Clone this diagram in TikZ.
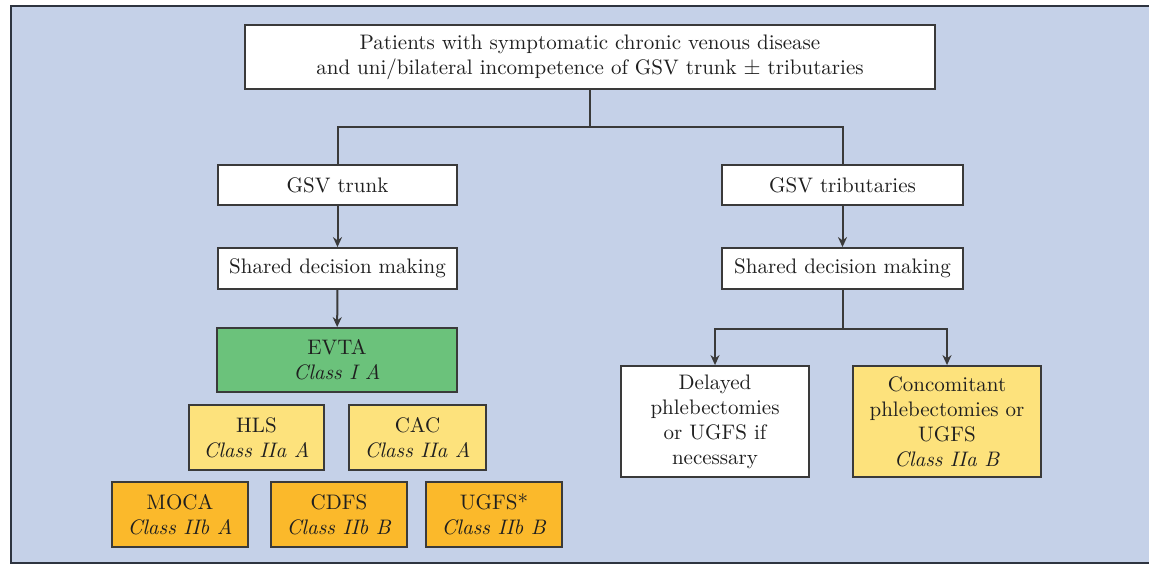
\documentclass[tikz,border=0pt]{standalone}
\usetikzlibrary{arrows.meta}
\definecolor{bg}{HTML}{C5D1E8}
\definecolor{framecol}{HTML}{2E3440}
\definecolor{edgecol}{HTML}{3A3A3A}
\definecolor{evtagreen}{HTML}{6BC27B}
\definecolor{lightyel}{HTML}{FDE27C}
\definecolor{orangey}{HTML}{FBB92B}
\begin{document}
\begin{tikzpicture}[x=0.5pt,y=-0.5pt,
  box/.style={draw=edgecol, line width=0.9pt, inner sep=0pt, align=center,
    font=\fontsize{10.5}{12.5}\selectfont, text=black!88},
  conn/.style={draw=edgecol, line width=1pt},
  arr/.style={conn, -{Stealth[length=5pt,width=4.5pt]}}]
\useasboundingbox (0,0) rectangle (1149,565);
\fill[bg] (11,6) rectangle (1149,563);
\draw[framecol, line width=1.1pt] (1149,6) -- (11,6) -- (11,563) -- (1149,563);

\node[box, fill=white, minimum width=345pt, minimum height=32pt] (top) at (590,57)
  {Patients with symptomatic chronic venous disease\\and uni/bilateral incompetence of GSV trunk $\pm$ tributaries};
\node[box, fill=white, minimum width=119.5pt, minimum height=20pt] (trunk) at (337.5,185) {GSV trunk};
\node[box, fill=white, minimum width=120.5pt, minimum height=20pt] (trib) at (842.5,185) {GSV tributaries};
\node[box, fill=white, minimum width=119.5pt, minimum height=20.5pt] (sdm1) at (337.5,268.5) {Shared decision making};
\node[box, fill=white, minimum width=120.5pt, minimum height=20.5pt] (sdm2) at (842.5,268.5) {Shared decision making};
\node[box, fill=evtagreen, minimum width=120pt, minimum height=32pt] (evta) at (337,360) {EVTA\\\textit{Class I A}};
\node[box, fill=lightyel, minimum width=67.5pt, minimum height=32.5pt] (hls) at (256.5,437.5) {HLS\\\textit{Class IIa A}};
\node[box, fill=lightyel, minimum width=68.5pt, minimum height=32.5pt] (cac) at (417.5,437.5) {CAC\\\textit{Class IIa A}};
\node[box, fill=orangey, minimum width=68pt, minimum height=32.5pt] (moca) at (180,514.5) {MOCA\\\textit{Class IIb A}};
\node[box, fill=orangey, minimum width=68pt, minimum height=32.5pt] (cdfs) at (339,514.5) {CDFS\\\textit{Class IIb B}};
\node[box, fill=orangey, minimum width=68pt, minimum height=32.5pt] (ugfs) at (494,514.5) {UGFS*\\\textit{Class IIb B}};
\node[box, fill=white, minimum width=94pt, minimum height=55.5pt] (del) at (715,421.5)
  {Delayed\\phlebectomies\\or UGFS if\\necessary};
\node[box, fill=lightyel, minimum width=94pt, minimum height=55.5pt] (conc) at (947,421.5)
  {Concomitant\\phlebectomies or\\UGFS\\\textit{Class IIa B}};

\coordinate (j1) at (590,127);
\coordinate (j2) at (842.5,329);
\draw[conn] (top.south) -- (j1);
\draw[conn] (trunk.north) |- (j1) -| (trib.north);
\draw[arr] (trunk) -- (sdm1);
\draw[arr] (sdm1) -- (evta);
\draw[arr] (trib) -- (sdm2);
\draw[conn] (sdm2.south) -- (j2);
\draw[arr] (j2) -| (del.north);
\draw[arr] (j2) -| (conc.north);
\end{tikzpicture}
\end{document}
